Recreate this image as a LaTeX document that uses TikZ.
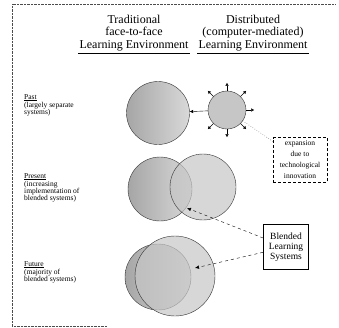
\documentclass[tikz,border=0pt]{standalone}
\usepackage{fontspec}
\setmainfont{Liberation Serif}
\usetikzlibrary{positioning}
\usetikzlibrary{calc}
\usetikzlibrary{arrows.meta}
\tikzset{
    heading/.style = {align=center, inner sep=1pt, font=\fontsize{12}{12.5}\selectfont},
    phase/.style = {align=left, anchor=north west, inner sep=0pt, font=\fontsize{7.5}{7}\selectfont},
    tradnode/.style = {circle, thin, draw=black!80, left color=gray!70, right color=gray!30},
    distnode/.style = {circle, thin, draw=black!80, fill=gray!45, fill opacity=0.7, text opacity=1},
    notebox/.style = {rectangle, thin, draw=black, densely dashed, align=center, minimum width=54pt, minimum height=40pt, font=\fontsize{7.5}{11}\selectfont},
    blendbox/.style = {rectangle, thick, draw=black, align=center, minimum width=45pt, minimum height=45pt, font=\fontsize{9.5}{10}\selectfont},
    edgen/.style = {-{Latex[length=3.5pt,width=3.5pt]},thin},
    edgeo/.style = {-{Latex[length=3pt,width=3.5pt]},thin}, % outward
    edged/.style = {thin,dotted},
    edgep/.style = {-{Latex[length=4pt,width=3.5pt]},thin,dashed}, % pointer
    frame/.style = {thin,densely dotted,black!70}
}

\begin{document}
\begin{tikzpicture}[x=1pt,y=-1pt]
%
\useasboundingbox (0,0) rectangle (339,327);
\draw[frame] (335,4) -- (12,4) -- (12,326) -- (107,326);
%
\node[heading] at (134,33) (tradhead) {Traditional\\face-to-face\\Learning Environment};
\node[heading] at (253,33) (disthead) {Distributed\\(computer-mediated)\\Learning Environment};
\draw[thin] ([yshift=-1pt]tradhead.south west) -- ([yshift=-1pt]tradhead.south east);
\draw[thin] ([yshift=-1pt]disthead.south west) -- ([yshift=-1pt]disthead.south east);
%
\node[phase] at (24,94) (past) {\underline{Past}\\(largely separate\\systems)};
\node[phase] at (24,173) (present) {\underline{Present}\\(increasing\\implementation of\\blended systems)};
\node[phase] at (24,261) (future) {\underline{Future}\\(majority of\\blended systems)};
%
\node[tradnode, minimum size=63pt] at (158,113) (pastT) {};
\node[distnode, minimum size=38pt, fill opacity=1] at (227,110) (pastD) {};
\node[tradnode, minimum size=64pt] at (160,189) (presT) {};
\node[distnode, minimum size=66pt] at (203,187) (presD) {};
\node[tradnode, minimum size=66pt] at (158,277) (futT) {};
\node[distnode, minimum size=80pt] at (175,276) (futD) {};
%
\node[notebox] at (300,160) (expbox) {expansion\\due to\\technological\\innovation};
\node[blendbox] at (286,247) (blend) {Blended\\Learning\\Systems};
\coordinate (overlap) at (187,208);
\coordinate (core) at (195,268);
%
\foreach \a in {0,45,90,135,225,270,315}
    \draw[edgeo] (pastD.\a) -- ($(pastD.center)!1.42!(pastD.\a)$);
\draw[edgen] (pastD) edge node {} (pastT);
\draw[edged] (pastD) edge node {} (expbox);
\draw[edgep] (blend) edge node {} (overlap);
\draw[edgep] (blend) edge node {} (core);

\end{tikzpicture}
\end{document}
